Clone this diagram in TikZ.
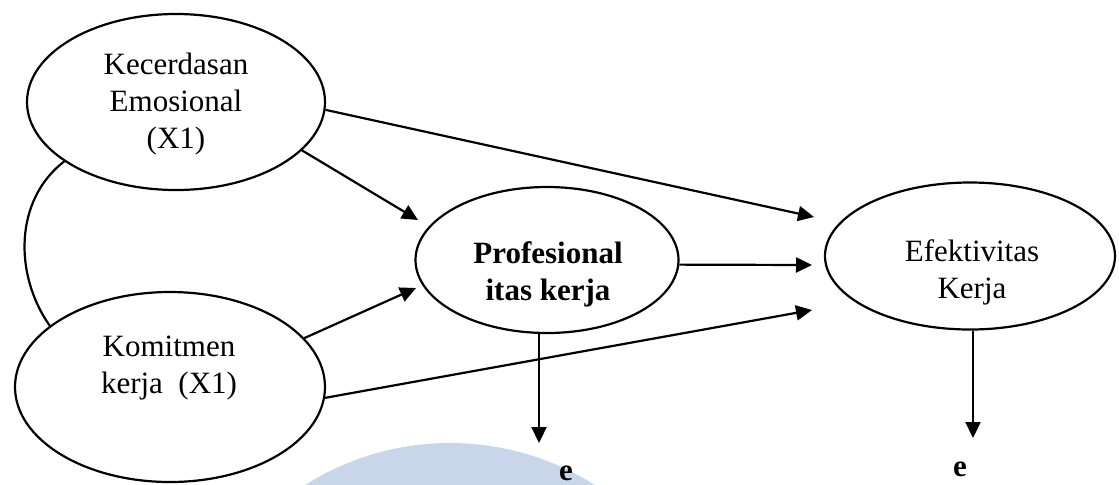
\documentclass[tikz,border=0pt]{standalone}
\usepackage{fontspec}
\setmainfont{Liberation Serif}
\usepackage{tikz}
\usetikzlibrary{arrows.meta, shapes.geometric}
\definecolor{markblue}{RGB}{201, 214, 233}

\begin{document}
\begin{tikzpicture}[x=0.5pt, y=-0.5pt, >={Triangle[length=8pt, width=7.5pt]},
  latent/.style={ellipse, draw, line width=1.1pt, inner sep=0pt},
  lbl/.style={align=center, font=\fontsize{15.5}{18.5}\selectfont},
  link/.style={->, line width=1.1pt}]

  \useasboundingbox (0,0) rectangle (1119,484);

  % Watermark behind the picture
  \begin{scope}
    \clip (0,0) rectangle (1119,484);
    \fill[markblue] (450,713) circle (135pt);
  \end{scope}

  % Latent variables
  \node[latent, minimum width=149pt, minimum height=88pt] (kec) at (176,102) {};
  \node[lbl] (kectxt) at (176,104) {Kecerdasan\\Emosional\\(X1)};

  \node[latent, minimum width=155pt, minimum height=95pt] (kom) at (170,387) {};
  \node[lbl] (komtxt) at (169,368) {Komitmen\\kerja~~(X1)};

  \node[latent, minimum width=131.5pt, minimum height=73pt] (prof) at (547,260) {};
  \node[lbl, font=\fontsize{15.5}{18.5}\selectfont\bfseries] (proftxt) at (548,274) {Profesional\\itas kerja};

  \node[latent, minimum width=145pt, minimum height=73.5pt] (eff) at (970,256) {};
  \node[lbl] (efftxt) at (972,272) {Efektivitas\\Kerja};

  % Error terms
  \node[lbl, font=\fontsize{15.5}{18.5}\selectfont\bfseries] (errp) at (566,473) {e};
  \node[lbl, font=\fontsize{15.5}{18.5}\selectfont\bfseries] (erre) at (960,469) {e};

  % Arrow ends
  \coordinate (tipa) at (814,217);
  \coordinate (tipb) at (418,220);
  \coordinate (tipc) at (416,288);
  \coordinate (tipd) at (812,310);
  \coordinate (tipf) at (812,265);
  \coordinate (tipp) at (539,443);
  \coordinate (tipe) at (973,438);

  % Paths
  \draw[link] (kec.-3) -- (tipa);
  \draw[link] (kec.-21) -- (tipb);
  \draw[link] (kom.20) -- (tipc);
  \draw[link] (kom.-4) -- (tipd);
  \draw[link] (prof.-2) -- (tipf);
  \draw[link] (prof.south -| tipp) -- (tipp);
  \draw[link] (eff.south -| tipe) -- (tipe);

  % Correlation between the exogenous variables
  \draw[line width=1.1pt] (kec.208) .. controls (14,200) and (14,275) .. (kom.153);

\end{tikzpicture}
\end{document}
